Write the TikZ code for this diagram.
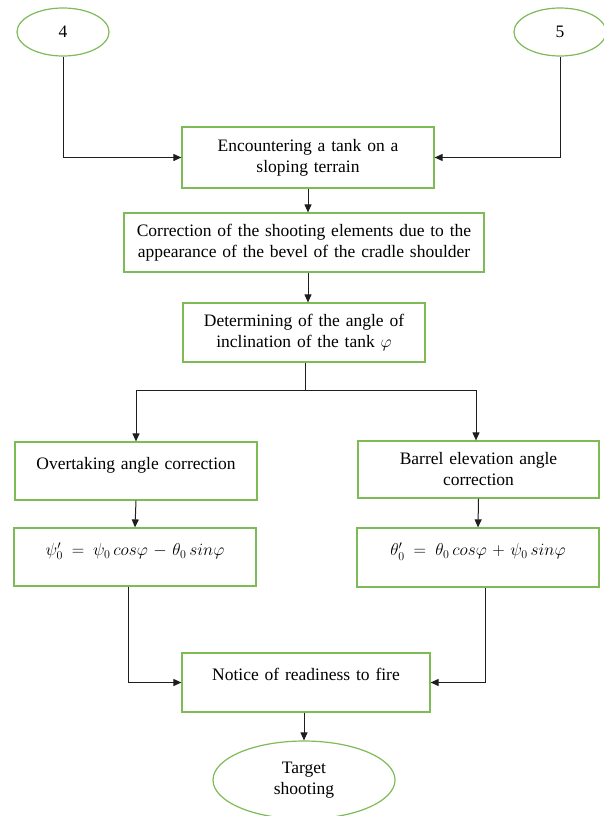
\documentclass[tikz,border=0pt]{standalone}
\usepackage{fontspec}
\setmainfont{Liberation Serif}
\usetikzlibrary{arrows.meta,shapes.geometric}
\definecolor{boxgreen}{HTML}{7EBB57}
\definecolor{linegray}{HTML}{1E1E1E}
\begin{document}
\begin{tikzpicture}[x=1pt,y=-1pt,
  box/.style={draw=boxgreen,line width=1.2pt,inner sep=0pt,align=center,
    font=\fontsize{17.5}{21}\selectfont},
  oval/.style={draw=boxgreen,line width=1.2pt,ellipse,inner sep=0pt,align=center,
    font=\fontsize{17.5}{21}\selectfont},
  up/.style={text depth=16pt},
  conn/.style={draw=linegray,line width=1pt},
  arr/.style={conn,-{Triangle[length=8pt,width=7pt]}}
]
\useasboundingbox (0,0) rectangle (604,816);
\node[oval,minimum width=92pt,minimum height=48pt] (e4) at (63,32) {4};
\node[oval,minimum width=92pt,minimum height=48pt] (e5) at (560,32) {5};
\node[box,minimum width=252pt,minimum height=61pt,text width=245pt] (b1) at (308,157.5)
  {Encountering a tank on a\\ sloping terrain};
\node[box,minimum width=360pt,minimum height=59pt,text width=356pt] (b2) at (304,242.5)
  {Correction of the shooting elements due to the\\ appearance of the bevel of the cradle shoulder};
\node[box,minimum width=242pt,minimum height=59pt,text width=238pt] (b3) at (304,332.5)
  {Determining of the angle of\\ inclination of the tank $\varphi$};
\node[box,up,minimum width=242pt,minimum height=58pt,text width=238pt] (b4) at (136,471)
  {Overtaking angle correction};
\node[box,minimum width=241pt,minimum height=57pt,text width=238pt] (b5) at (478.5,469.5)
  {Barrel elevation angle\\ correction};
\node[box,up,minimum width=242pt,minimum height=58pt,text width=238pt] (b6) at (135,557)
  {$\psi_0' = \psi_0\, cos\varphi - \theta_0\, sin\varphi$};
\node[box,up,minimum width=242pt,minimum height=59pt,text width=238pt] (b7) at (478,557.5)
  {$\theta_0' = \theta_0\, cos\varphi + \psi_0\, sin\varphi$};
\node[box,up,minimum width=248pt,minimum height=59pt,text width=242pt] (b8) at (306,682.5)
  {Notice of readiness to fire};
\node[oval,minimum width=182pt,minimum height=78pt] (et) at (304,780)
  {Target\\ shooting};
\coordinate (split) at (305,390);

\draw[arr] (e4.south) |- (b1.west);
\draw[arr] (e5.south) |- (b1.east);
\draw[arr] (b1.south) -- (b1.south |- b2.north);
\draw[arr] (b1.south |- b2.south) -- (b1.south |- b3.north);
\draw[conn] (b3.south -| split) -- (split);
\draw[arr] (split) -| (b4.north);
\draw[arr] (split) -| ([xshift=-2.5pt]b5.north);
\draw[arr] (b4.south) -- (b6.north);
\draw[arr] (b5.south) -- (b7.north);
\draw[arr] ([xshift=-7pt]b6.south) |- (b8.west);
\draw[arr] ([xshift=7pt]b7.south) |- (b8.east);
\draw[arr] (b8.south -| et.north) -- (et.north);
\end{tikzpicture}
\end{document}
